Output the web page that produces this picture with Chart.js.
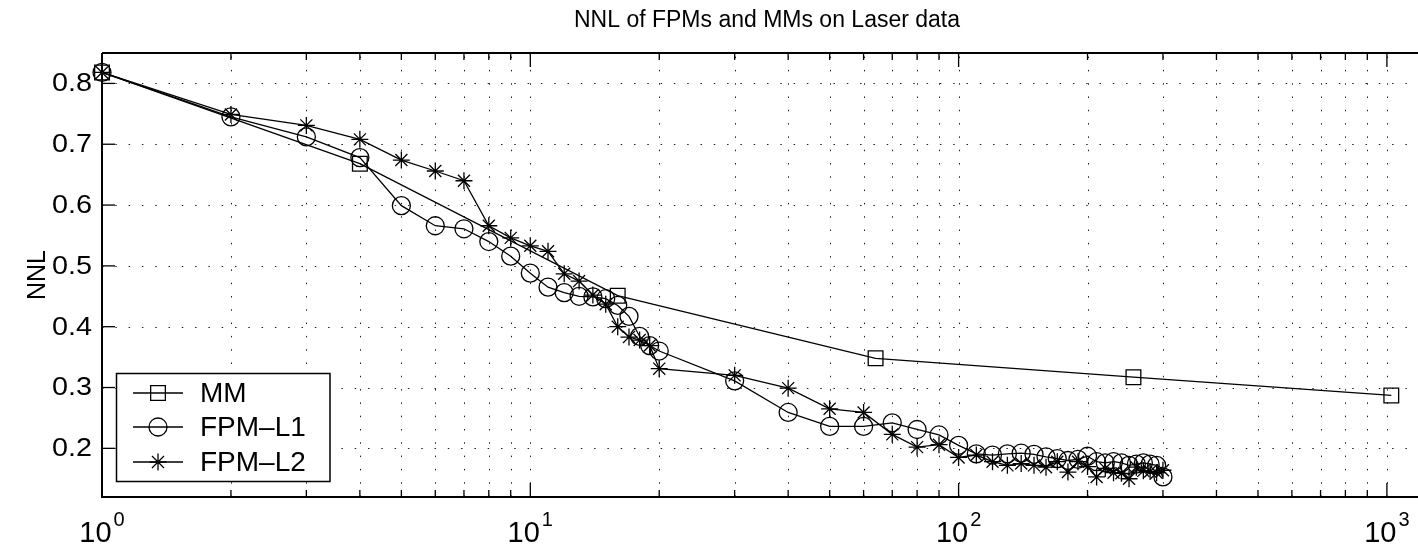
<!DOCTYPE html>
<html>
<head>
<meta charset="utf-8">
<title>NNL of FPMs and MMs on Laser data</title>
<script src="https://cdn.jsdelivr.net/npm/chart.js@4.4.1/dist/chart.umd.min.js"></script>
<style>
  html, body { margin: 0; padding: 0; background: #fff; }
  #wrap { width: 1418px; height: 549px; }
</style>
</head>
<body>
<div id="wrap"><canvas id="nnlChart" width="1418" height="549"></canvas></div>
<script>
// Données : NNL en fonction du nombre de composantes (échelle log)
const xMM   = [1, 4, 16, 64, 256, 1024];
const nnlMM = [0.818, 0.668, 0.451, 0.348, 0.317, 0.287];

const xFPM = [1, 2, 3, 4, 5, 6, 7, 8, 9, 10, 11, 12, 13, 14, 15, 16, 17, 18, 19, 20,
              30, 40, 50, 60, 70, 80, 90, 100, 110, 120, 130, 140, 150, 160, 170, 180, 190, 200,
              210, 220, 230, 240, 250, 260, 270, 280, 290, 300];

const nnlL1 = [0.818, 0.745, 0.712, 0.678, 0.599, 0.566, 0.561, 0.540, 0.516, 0.488,
               0.465, 0.456, 0.450, 0.449, 0.446, 0.435, 0.417, 0.384, 0.369, 0.360,
               0.311, 0.259, 0.236, 0.236, 0.242, 0.231, 0.222, 0.205,
               0.191, 0.189, 0.191, 0.192, 0.190, 0.186, 0.183, 0.180, 0.182, 0.187,
               0.178, 0.176, 0.178, 0.176, 0.172, 0.174, 0.176, 0.174, 0.172, 0.153];

const nnlL2 = [0.818, 0.749, 0.731, 0.708, 0.674, 0.656, 0.640, 0.566, 0.546, 0.533,
               0.524, 0.487, 0.475, 0.452, 0.437, 0.400, 0.383, 0.378, 0.369, 0.331,
               0.320, 0.299, 0.265, 0.259, 0.223, 0.202, 0.206, 0.185,
               0.189, 0.178, 0.172, 0.175, 0.172, 0.169, 0.178, 0.161, 0.178, 0.170,
               0.153, 0.167, 0.160, 0.159, 0.150, 0.169, 0.163, 0.162, 0.160, 0.164];

// Graduations
const yTicks    = [0.2, 0.3, 0.4, 0.5, 0.6, 0.7, 0.8];
const xDecades  = [1, 10, 100, 1000];
const xExponent = ['0', '1', '2', '3'];
const xMinor    = [2, 3, 4, 5, 6, 7, 8, 9, 20, 30, 40, 50, 60, 70, 80, 90,
                   200, 300, 400, 500, 600, 700, 800, 900];

const FONT = '"Liberation Sans", Arial, Helvetica, sans-serif';

function toPoints(xs, ys) {
    return xs.map((x, i) => ({ x: x, y: ys[i] }));
}

/**
 * Axes façon MATLAB : grille pointillée, cadre, graduations internes,
 * étiquettes 10^n, titre et légende dans le coin bas gauche
 */
const matlabAxes = {
    id: 'matlabAxes',
    beforeDatasetsDraw(chart) {
        const { ctx, chartArea: a, scales } = chart;
        ctx.save();
        ctx.strokeStyle = '#222';
        ctx.lineWidth = 1;
        ctx.setLineDash([1.5, 11.8]);
        xDecades.concat(xMinor).forEach(v => {
            const px = Math.round(scales.x.getPixelForValue(v)) + 0.5;
            if (px <= a.left + 1 || px >= a.right) return;
            ctx.beginPath();
            ctx.moveTo(px, a.bottom);
            ctx.lineTo(px, a.top);
            ctx.stroke();
        });
        yTicks.forEach(v => {
            const py = Math.round(scales.y.getPixelForValue(v)) + 0.5;
            ctx.beginPath();
            ctx.moveTo(a.left, py);
            ctx.lineTo(a.right, py);
            ctx.stroke();
        });
        ctx.restore();
    },
    afterDatasetsDraw(chart) {
        const { ctx, chartArea: a, scales } = chart;
        ctx.save();
        ctx.strokeStyle = '#000';
        ctx.fillStyle = '#000';
        ctx.lineWidth = 2;
        ctx.setLineDash([]);

        // cadre
        ctx.beginPath();
        ctx.moveTo(a.left, a.top);
        ctx.lineTo(a.right, a.top);
        ctx.moveTo(a.left, a.top);
        ctx.lineTo(a.left, a.bottom);
        ctx.lineTo(a.right, a.bottom);
        ctx.stroke();

        // graduations internes
        ctx.lineWidth = 1.3;
        const tick = (px, len) => {
            ctx.beginPath();
            ctx.moveTo(px, a.bottom);
            ctx.lineTo(px, a.bottom - len);
            ctx.moveTo(px, a.top);
            ctx.lineTo(px, a.top + len);
            ctx.stroke();
        };
        xDecades.forEach(v => tick(scales.x.getPixelForValue(v), 14));
        xMinor.forEach(v => tick(scales.x.getPixelForValue(v), 7));
        yTicks.forEach(v => {
            const py = scales.y.getPixelForValue(v);
            ctx.beginPath();
            ctx.moveTo(a.left, py);
            ctx.lineTo(a.left + 13, py);
            ctx.stroke();
        });

        // étiquettes de l'axe y (légèrement élargies)
        ctx.font = '25px ' + FONT;
        ctx.textAlign = 'right';
        ctx.textBaseline = 'middle';
        yTicks.forEach(v => {
            ctx.save();
            ctx.translate(92, scales.y.getPixelForValue(v) + 1);
            ctx.scale(1.15, 1);
            ctx.fillText(v.toFixed(1), 0, 0);
            ctx.restore();
        });

        // étiquettes de l'axe x : 10 puis exposant
        ctx.textBaseline = 'alphabetic';
        ctx.textAlign = 'left';
        xDecades.forEach((v, i) => {
            const px = scales.x.getPixelForValue(v);
            ctx.font = '29px ' + FONT;
            const wBase = ctx.measureText('10').width;
            ctx.font = '20px ' + FONT;
            const wExp = ctx.measureText(xExponent[i]).width;
            const left = px - (wBase + 2 + wExp) / 2;
            ctx.font = '29px ' + FONT;
            ctx.fillText('10', left, 542);
            ctx.font = '20px ' + FONT;
            ctx.fillText(xExponent[i], left + wBase + 2, 526);
        });

        // titre de l'axe y
        ctx.save();
        ctx.translate(38, 275);
        ctx.rotate(-Math.PI / 2);
        ctx.textAlign = 'center';
        ctx.textBaseline = 'middle';
        ctx.font = '25px ' + FONT;
        ctx.fillText('NNL', 0, 0);
        ctx.restore();

        // titre
        ctx.textAlign = 'center';
        ctx.textBaseline = 'middle';
        ctx.font = '23px ' + FONT;
        ctx.fillText('NNL of FPMs and MMs on Laser data', 767, 21);

        // légende
        const lx = 116.5, ly = 373.5, lw = 213.5, lh = 108;
        ctx.fillStyle = '#fff';
        ctx.fillRect(lx, ly, lw, lh);
        ctx.lineWidth = 1.5;
        ctx.strokeRect(lx, ly, lw, lh);
        const entries = chart.data.datasets;
        const rows = [393, 427, 462];
        ctx.font = '28px ' + FONT;
        ctx.textAlign = 'left';
        ctx.textBaseline = 'middle';
        entries.forEach((ds, i) => {
            const y = rows[i];
            ctx.strokeStyle = '#000';
            ctx.lineWidth = 1.3;
            ctx.beginPath();
            ctx.moveTo(133, y);
            ctx.lineTo(183, y);
            ctx.stroke();
            ctx.fillStyle = 'rgba(0,0,0,0)';
            Chart.helpers.drawPoint(ctx, {
                pointStyle: ds.pointStyle,
                radius: ds.pointRadius,
                borderWidth: 1.3,
                rotation: 0
            }, 158, y);
            ctx.fillStyle = '#000';
            ctx.fillText(ds.label, 200, y + 1);
        });
        ctx.restore();
    }
};

function serie(label, xs, ys, style, radius) {
    return {
        label: label,
        data: toPoints(xs, ys),
        showLine: true,
        borderColor: '#000',
        borderWidth: 1.3,
        backgroundColor: 'rgba(0,0,0,0)',
        pointStyle: style,
        pointRadius: radius,
        pointBorderColor: '#000',
        pointBorderWidth: 1.3,
        pointBackgroundColor: 'rgba(0,0,0,0)',
        tension: 0,
        clip: false
    };
}

const ctx = document.getElementById('nnlChart');

new Chart(ctx, {
    type: 'scatter',
    data: {
        datasets: [
            serie('MM', xMM, nnlMM, 'rect', 10.4),
            serie('FPM\u2013L1', xFPM, nnlL1, 'circle', 9),
            serie('FPM\u2013L2', xFPM, nnlL2, 'star', 8.5)
        ]
    },
    options: {
        responsive: false,
        animation: false,
        devicePixelRatio: 1,
        layout: {
            autoPadding: false,
            padding: { top: 53, right: 0, left: 0, bottom: 0 }
        },
        plugins: {
            legend: { display: false },
            title: { display: false },
            tooltip: { enabled: false }
        },
        scales: {
            x: {
                type: 'logarithmic',
                min: 1,
                max: 1182,
                grid: { display: false },
                border: { display: false },
                ticks: { display: false },
                afterFit: scale => { scale.height = 52; }
            },
            y: {
                type: 'linear',
                min: 0.12,
                max: 0.85,
                grid: { display: false },
                border: { display: false },
                ticks: { display: false },
                afterFit: scale => { scale.width = 102; }
            }
        }
    },
    plugins: [matlabAxes]
});
</script>
</body>
</html>
